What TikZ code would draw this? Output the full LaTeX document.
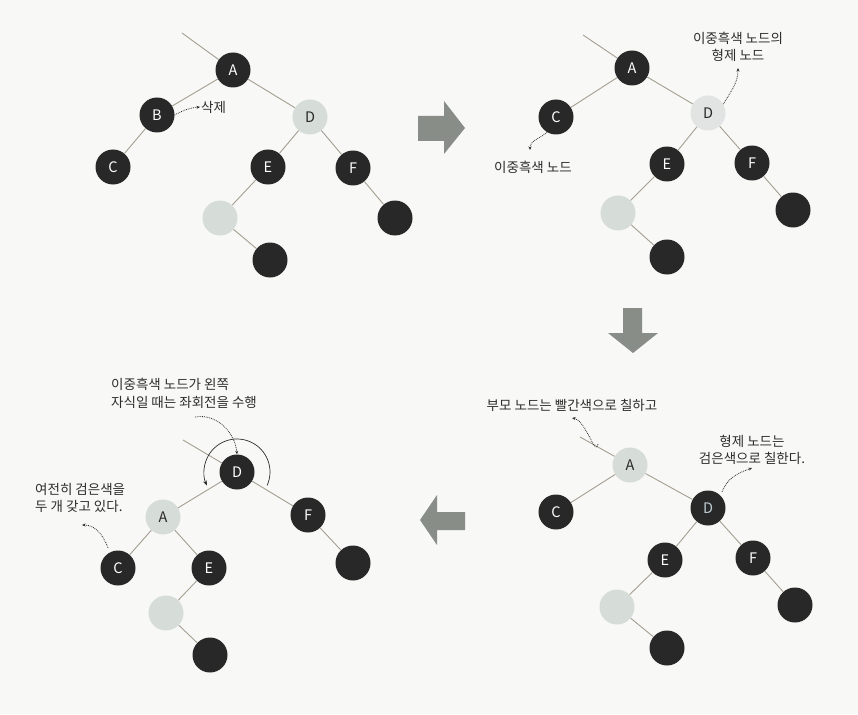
\documentclass[tikz,border=0pt]{standalone}
\usepackage{fontspec}
\setmainfont{Noto Sans CJK KR}
\usetikzlibrary{arrows.meta}
\definecolor{bgc}{RGB}{248,248,246}
\definecolor{dark}{RGB}{40,40,40}
\definecolor{lite}{RGB}{214,220,215}
\definecolor{edgec}{RGB}{165,158,146}
\definecolor{arrc}{RGB}{136,141,136}
\definecolor{txt}{RGB}{45,45,45}
\tikzset{
  blk/.style={circle,fill=dark,minimum size=35pt,inner sep=0pt,text=white,font=\fontsize{14.5}{14.5}\selectfont},
  lgt/.style={circle,fill=lite,minimum size=35pt,inner sep=0pt,text=dark,font=\fontsize{14.5}{14.5}\selectfont},
  edge/.style={draw=edgec,line width=0.9pt},
  note/.style={draw=txt,line width=0.8pt,densely dotted,-{Stealth[length=3.5pt,width=3pt]}},
  lbl/.style={text=txt,font=\fontsize{13.5}{17.5}\selectfont,inner sep=0pt},
  bigarrow/.style={fill=arrc}
}
\begin{document}
\begin{tikzpicture}[x=1pt,y=-1pt]
\fill[bgc] (0,0) rectangle (858,714);
\useasboundingbox (0,0) rectangle (858,714);

% big arrows
\fill[bigarrow] (418,116) -- (444,116) -- (444,101) -- (465,128) -- (444,154) -- (444,141) -- (418,141) -- cycle;
\fill[bigarrow] (623,308) -- (642,308) -- (642,333) -- (658,333) -- (633,353) -- (608,333) -- (623,333) -- cycle;
\fill[bigarrow] (465,512) -- (437,512) -- (437,495) -- (420,520) -- (437,545) -- (437,530) -- (465,530) -- cycle;

% ---------- tree 1 (top left)
\coordinate (T1) at (182,33);
\node[blk] (A1) at (233,70) {A};
\node[blk] (B1) at (157,115) {B};
\node[blk] (C1) at (113,167) {C};
\node[lgt] (D1) at (310,117) {D};
\node[blk] (E1) at (268,167) {E};
\node[blk] (F1) at (353,168) {F};
\node[lgt] (G1) at (220,218) {};
\node[blk] (H1) at (270,260) {};
\node[blk] (I1) at (395,218) {};
\draw[edge] (T1) -- (A1);
\draw[edge] (A1) -- (B1); \draw[edge] (A1) -- (D1);
\draw[edge] (B1) -- (C1);
\draw[edge] (D1) -- (E1); \draw[edge] (D1) -- (F1);
\draw[edge] (E1) -- (G1); \draw[edge] (G1) -- (H1);
\draw[edge] (F1) -- (I1);
\node[lbl,anchor=west] (del) at (201,107) {삭제};
\draw[note] (B1.east) to[bend left=12] ([xshift=-1pt]del.west);

% ---------- tree 2 (top right)
\coordinate (T2) at (583,35);
\node[blk] (A2) at (632,68) {A};
\node[blk] (C2) at (556,117) {C};
\node[lgt,fill={rgb,255:red,226;green,228;blue,228}] (D2) at (708,113) {D};
\node[blk] (E2) at (667,164) {E};
\node[blk] (F2) at (752,163) {F};
\node[lgt] (G2) at (618,213) {};
\node[blk] (H2) at (667,257) {};
\node[blk] (I2) at (793,210) {};
\draw[edge] (T2) -- (A2);
\draw[edge] (A2) -- (C2); \draw[edge] (A2) -- (D2);
\draw[edge] (D2) -- (E2); \draw[edge] (D2) -- (F2);
\draw[edge] (E2) -- (G2); \draw[edge] (G2) -- (H2);
\draw[edge] (F2) -- (I2);
\node[lbl,align=center] (sib) at (738,47) {이중흑색 노드의\\형제 노드};
\coordinate (sibend) at (738,68);
\draw[note] (D2.30) to[out=60,in=-90] (sibend);
\node[lbl] (dbl) at (533,167) {이중흑색 노드};
\coordinate (dblend) at (530,150);
\draw[note] (C2.240) to[out=220,in=90] (dblend);

% ---------- tree 4 (bottom right)
\coordinate (T4) at (580,437);
\node[lgt] (A4) at (630,465) {A};
\node[blk] (C4) at (556,512) {C};
\node[blk,text={rgb,255:red,190;green,205;blue,210}] (D4) at (708,508) {D};
\node[blk] (E4) at (665,560) {E};
\node[blk] (F4) at (753,558) {F};
\node[lgt] (G4) at (617,607) {};
\node[blk] (H4) at (667,648) {};
\node[blk] (I4) at (795,605) {};
\draw[edge] (T4) -- (A4);
\draw[edge] (A4) -- (C4); \draw[edge] (A4) -- (D4);
\draw[edge] (D4) -- (E4); \draw[edge] (D4) -- (F4);
\draw[edge] (E4) -- (G4); \draw[edge] (G4) -- (H4);
\draw[edge] (F4) -- (I4);
\node[lbl] (par) at (572,405) {부모 노드는 빨간색으로 칠하고};
\coordinate (parst) at (598,444);
\coordinate (parend) at (572,418);
\draw[note] (parst) to[out=-100,in=-10] (parend);
\node[lbl,align=center] (sib4) at (752,450) {형제 노드는\\검은색으로 칠한다.};
\coordinate (sib4st) at (722,492);
\coordinate (sib4end) at (752,468);
\draw[note] (sib4st) to[out=70,in=200] (sib4end);

% ---------- tree 3 (bottom left)
\coordinate (T3) at (183,440);
\node[blk] (D3) at (237,472) {D};
\node[lgt] (A3) at (163,517) {A};
\node[blk] (F3) at (308,515) {F};
\node[blk] (C3) at (118,568) {C};
\node[blk] (E3) at (209,568) {E};
\node[lgt] (G3) at (166,613) {};
\node[blk] (H3) at (210,655) {};
\node[blk] (I3) at (353,563) {};
\draw[edge] (T3) -- (D3);
\draw[edge] (D3) -- (A3); \draw[edge] (D3) -- (F3);
\draw[edge] (A3) -- (C3); \draw[edge] (A3) -- (E3);
\draw[edge] (E3) -- (G3); \draw[edge] (G3) -- (H3);
\draw[edge] (F3) -- (I3);
\draw[draw=txt,line width=0.7pt,-{Stealth[length=5pt,width=4pt]}] (D3.center) ++(24:33) arc[start angle=24,end angle=-204,radius=33];
\node[lbl,align=left,anchor=north west] (rot) at (111,378) {이중흑색 노드가 왼쪽\\자식일 때는 좌회전을 수행};
\coordinate (rotst) at (195,417);
\draw[note] (rotst) to[out=10,in=95] (D3.north);
\node[lbl,align=left,anchor=north west] (still) at (35,483) {여전히 검은색을\\두 개 갖고 있다.};
\coordinate (stillst) at (108,548);
\coordinate (stillend) at (82,525);
\draw[note] (stillst) to[out=110,in=0] (stillend);
\end{tikzpicture}
\end{document}
